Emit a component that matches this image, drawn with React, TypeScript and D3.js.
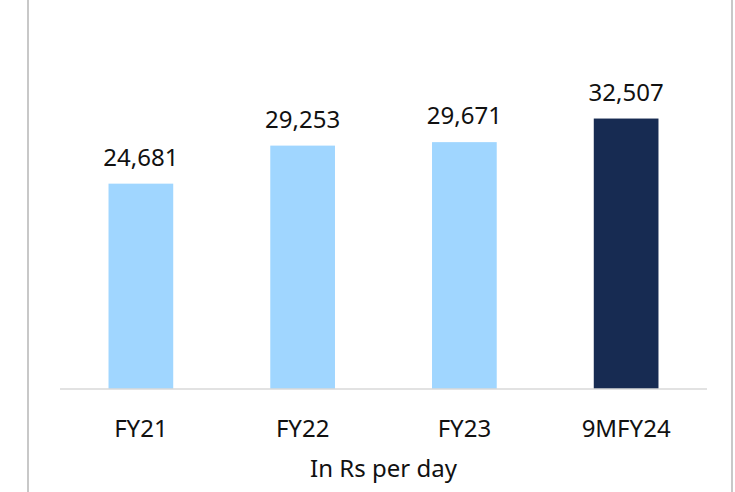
import * as d3 from "d3";

const categories = ["FY21", "FY22", "FY23", "9MFY24"];
const values = [24681, 29253, 29671, 32507];
const barColors = ["#a0d6ff", "#a0d6ff", "#a0d6ff", "#172b52"];
const axisTitle = "In Rs per day";

export default function App() {
  const width = 735;
  const height = 492;
  const left = 60;
  const right = 707;
  const baseline = 389;

  const x = d3.scaleBand().domain(categories).range([left, right]).paddingInner(0.6).paddingOuter(0.3);
  const y = d3.scaleLinear().domain([0, 35000]).range([baseline, baseline - 35000 * 0.00832]);
  const fmt = d3.format(",");
  const font = "'Noto Sans', 'Open Sans', sans-serif";

  return (
    <svg width={width} height={height} style={{ position: "absolute", left: 0, top: 0 }}>
      <rect width={width} height={height} fill="#fff" />
      <line x1={28} x2={28} y1={0} y2={height} stroke="#c8c8c8" strokeWidth={2} />
      <line x1={732} x2={732} y1={0} y2={height} stroke="#c8c8c8" strokeWidth={2} />
      {categories.map((c, i) => (
        <g key={c}>
          <rect
            x={x(c)}
            y={y(values[i])}
            width={x.bandwidth()}
            height={baseline - y(values[i])}
            fill={barColors[i]}
          />
          <text
            x={x(c)! + x.bandwidth() / 2}
            y={y(values[i]) - 18}
            textAnchor="middle"
            fontFamily={font}
            fontSize={24}
            fill="#111"
          >
            {fmt(values[i])}
          </text>
          <text
            x={x(c)! + x.bandwidth() / 2}
            y={437}
            textAnchor="middle"
            fontFamily={font}
            fontSize={24}
            fill="#111"
          >
            {c}
          </text>
        </g>
      ))}
      <line x1={left} x2={right} y1={baseline} y2={baseline} stroke="#d9d9d9" strokeWidth={1.5} />
      <text x={(left + right) / 2} y={477} textAnchor="middle" fontFamily={font} fontSize={24} fill="#111">
        {axisTitle}
      </text>
    </svg>
  );
}
